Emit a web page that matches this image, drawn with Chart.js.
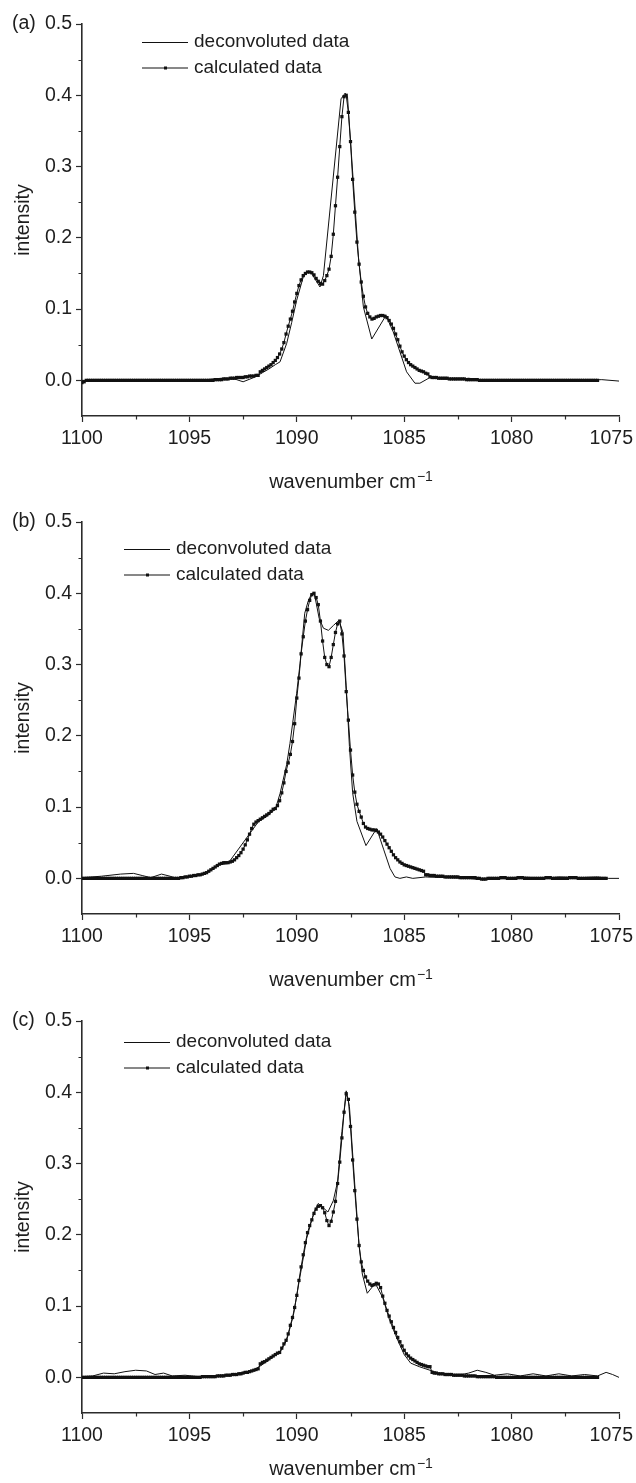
<!DOCTYPE html>
<html>
<head>
<meta charset="utf-8">
<script src="https://cdn.jsdelivr.net/npm/chart.js@4.4.0/dist/chart.umd.min.js"></script>
<style>
  html, body { margin: 0; padding: 0; background: #fff; }
  canvas { display: block; }
</style>
</head>
<body>
<canvas id="chartA" width="636" height="498"></canvas>
<canvas id="chartB" width="636" height="499"></canvas>
<canvas id="chartC" width="636" height="486"></canvas>
<script>
const FONT = '"Liberation Sans", Arial, Helvetica, sans-serif';
const INK = '#1e1e1e';
const AXIS = '#2b2b2b';
const LINE = '#111';

const SERIES = ['deconvoluted data', 'calculated data'];
const X_TICKS = [1100, 1095, 1090, 1085, 1080, 1075];
const X_MINOR = [1097.5, 1092.5, 1087.5, 1082.5, 1077.5];
const Y_TICKS = [0, 0.1, 0.2, 0.3, 0.4, 0.5];
const Y_MINOR = [0.05, 0.15, 0.25, 0.35, 0.45];

// (a) deconvoluted data
const decA_x = [1100, 1098, 1096, 1094.2, 1093.5, 1092.9, 1092.5, 1092.0, 1091.7, 1091.3, 1091.0, 1090.78, 1090.47, 1090.24, 1090.01, 1089.70, 1089.47, 1089.31, 1088.92, 1088.76, 1087.94, 1087.75, 1087.64, 1087.13, 1086.90, 1086.51, 1085.85, 1085.51, 1084.89, 1084.5, 1084.27, 1083.8, 1083.2, 1082.6, 1082.0, 1081.5, 1080.5, 1079, 1077, 1075.8, 1075];
const decA_y = [0, 0, 0, 0.001, 0.003, 0.002, -0.002, 0.004, 0.009, 0.016, 0.022, 0.026, 0.052, 0.081, 0.112, 0.145, 0.153, 0.150, 0.131, 0.147, 0.395, 0.403, 0.398, 0.173, 0.103, 0.058, 0.091, 0.068, 0.012, -0.004, -0.004, 0.004, 0.002, 0.001, 0.003, 0.001, 0, 0, 0, 0.001, -0.001];

// (a) calculated data, every 0.1 cm-1 from 1100.0
const calcA_start = 1100;
const calcA_y = [
  -0.003, -0.002, 0, 0, 0, 0, 0, 0, 0, 0,
  0, 0, 0, 0, 0, 0, 0, 0, 0, 0,
  0, 0, 0, 0, 0, 0, 0, 0, 0, 0,
  0, 0, 0, 0, 0, 0, 0, 0, 0, 0,
  0, 0, 0, 0, 0, 0, 0, 0, 0, 0,
  0, 0, 0, 0, 0, 0, 0, 0, 0, 0,
  0, 0, 0.001, 0.001, 0.001, 0.001, 0.002, 0.002, 0.002, 0.003,
  0.003, 0.003, 0.004, 0.004, 0.004, 0.004, 0.005, 0.005, 0.006, 0.006,
  0.006, 0.007, 0.007, 0.012, 0.014, 0.016, 0.018, 0.020, 0.022, 0.025,
  0.028, 0.032, 0.037, 0.044, 0.053, 0.065, 0.076, 0.086, 0.097, 0.110,
  0.122, 0.133, 0.141, 0.147, 0.150, 0.152, 0.152, 0.151, 0.148, 0.143,
  0.139, 0.136, 0.135, 0.140, 0.147, 0.156, 0.174, 0.205, 0.245, 0.285,
  0.328, 0.370, 0.398, 0.400, 0.376, 0.335, 0.282, 0.236, 0.194, 0.163,
  0.138, 0.118, 0.103, 0.094, 0.089, 0.086, 0.087, 0.089, 0.090, 0.091,
  0.091, 0.090, 0.088, 0.084, 0.079, 0.073, 0.065, 0.057, 0.048, 0.040,
  0.034, 0.029, 0.025, 0.022, 0.020, 0.018, 0.016, 0.014, 0.013, 0.012,
  0.010, 0.009, 0.005, 0.004, 0.004, 0.004, 0.003, 0.003, 0.003, 0.003,
  0.003, 0.002, 0.002, 0.002, 0.002, 0.002, 0.002, 0.002, 0.002, 0.001,
  0.001, 0.001, 0.001, 0.001, 0.001, 0, 0, 0, 0, 0,
  0, 0, 0, 0, 0, 0, 0, 0, 0, 0,
  0, 0, 0, 0, 0, 0, 0, 0, 0, 0,
  0, 0, 0, 0, 0, 0, 0, 0, 0, 0,
  0, 0, 0, 0, 0, 0, 0, 0, 0, 0,
  0, 0, 0, 0, 0, 0, 0, 0, 0, 0,
  0
];

// (b) deconvoluted data
const decB_x = [1100, 1099.1, 1098.2, 1097.6, 1097.2, 1096.8, 1096.3, 1095.9, 1095.6, 1095.0, 1094.4, 1094.0, 1093.6, 1093.2, 1091.8, 1091.4, 1091.0, 1090.78, 1090.47, 1090.32, 1090.01, 1089.85, 1089.63, 1089.47, 1089.3, 1089.2, 1089.14, 1088.96, 1088.76, 1088.53, 1088.29, 1088.04, 1087.85, 1087.7, 1087.55, 1087.4, 1087.2, 1086.78, 1086.28, 1085.95, 1085.66, 1085.43, 1085.2, 1084.9, 1084.6, 1084.0, 1083.0, 1082.0, 1081.3, 1080.5, 1079.5, 1078.5, 1077.8, 1076.8, 1076.0, 1075.5, 1075];
const decB_y = [0.001, 0.003, 0.006, 0.007, 0.004, 0.001, 0.006, 0.003, 0.000, 0.002, 0.005, 0.011, 0.019, 0.021, 0.079, 0.087, 0.097, 0.119, 0.160, 0.189, 0.259, 0.301, 0.372, 0.389, 0.400, 0.400, 0.393, 0.365, 0.351, 0.348, 0.355, 0.362, 0.345, 0.270, 0.185, 0.120, 0.080, 0.046, 0.070, 0.040, 0.014, 0.002, 0.000, 0.002, 0.000, 0.002, 0.001, 0.000, -0.002, 0.000, 0.002, 0.000, 0.002, 0.001, 0.002, 0.000, 0.000];

// (b) calculated data, every 0.1 cm-1 from 1100.0
const calcB_start = 1100;
const calcB_y = [
  0, 0, 0, 0, 0, 0, 0, 0, 0, 0,
  0, 0, 0, 0, 0, 0, 0, 0, 0, 0,
  0, 0, 0, 0, 0, 0, 0, 0, 0, 0,
  0, 0, 0, 0, 0, 0, 0, 0, 0, 0,
  0, 0, 0, 0, 0, 0, 0.001, 0.001, 0.002, 0.002,
  0.003, 0.003, 0.004, 0.004, 0.005, 0.005, 0.006, 0.007, 0.008, 0.010,
  0.012, 0.014, 0.016, 0.018, 0.020, 0.021, 0.022, 0.022, 0.022, 0.023,
  0.024, 0.026, 0.029, 0.032, 0.036, 0.041, 0.047, 0.054, 0.062, 0.070,
  0.076, 0.079, 0.081, 0.083, 0.085, 0.087, 0.089, 0.091, 0.094, 0.097,
  0.098, 0.102, 0.109, 0.120, 0.134, 0.150, 0.162, 0.174, 0.192, 0.217,
  0.253, 0.281, 0.315, 0.339, 0.361, 0.377, 0.390, 0.398, 0.400, 0.394,
  0.384, 0.361, 0.333, 0.310, 0.300, 0.297, 0.310, 0.328, 0.345, 0.357,
  0.361, 0.343, 0.312, 0.262, 0.222, 0.180, 0.145, 0.121, 0.104, 0.094,
  0.086, 0.077, 0.072, 0.070, 0.069, 0.068, 0.068, 0.067, 0.065, 0.062,
  0.058, 0.053, 0.048, 0.043, 0.038, 0.033, 0.029, 0.026, 0.023, 0.021,
  0.019, 0.018, 0.017, 0.016, 0.015, 0.014, 0.013, 0.012, 0.011, 0.010,
  0.005, 0.005, 0.004, 0.004, 0.004, 0.003, 0.003, 0.003, 0.003, 0.002,
  0.002, 0.002, 0.002, 0.002, 0.002, 0.002, 0.001, 0.001, 0.001, 0.001,
  0.001, 0.001, 0.001, 0.001, 0, 0, -0.001, -0.001, -0.001, 0,
  0, 0, 0, 0, 0, 0.001, 0.001, 0.001, 0, 0,
  0, 0, 0, 0.001, 0.001, 0.001, 0, 0, 0, 0,
  0, 0, 0, 0, 0, 0, 0.001, 0.001, 0.001, 0,
  0, 0, 0, 0, 0, 0, 0, 0.001, 0.001, 0.001,
  0.001, 0, 0, 0, 0, 0, 0, 0, 0, 0,
  0, 0, 0, 0, 0
];

// (c) deconvoluted data
const decC_x = [1100, 1099.5, 1099.0, 1098.5, 1098.0, 1097.5, 1097.0, 1096.6, 1096.2, 1095.8, 1095.2, 1094.6, 1094.0, 1093.0, 1092.0, 1091.5, 1091.0, 1090.78, 1090.47, 1090.16, 1089.9, 1089.54, 1089.2, 1089.0, 1088.55, 1088.3, 1088.1, 1087.9, 1087.7, 1087.55, 1087.3, 1087.1, 1086.95, 1086.72, 1086.35, 1086.0, 1085.7, 1085.4, 1085.0, 1084.7, 1084.3, 1083.8, 1083.2, 1082.5, 1082.0, 1081.6, 1081.2, 1080.8, 1080.2, 1079.6, 1079.0, 1078.4, 1077.8, 1077.2, 1076.6, 1076.0, 1075.6, 1075.3, 1075.0];
const decC_y = [0.001, 0.002, 0.006, 0.005, 0.008, 0.010, 0.009, 0.004, 0.006, 0.002, 0.003, 0.001, 0.002, 0.004, 0.010, 0.020, 0.031, 0.035, 0.052, 0.087, 0.133, 0.195, 0.232, 0.244, 0.232, 0.248, 0.275, 0.345, 0.402, 0.380, 0.270, 0.185, 0.145, 0.118, 0.132, 0.112, 0.082, 0.059, 0.032, 0.020, 0.015, 0.010, 0.004, 0.003, 0.006, 0.010, 0.007, 0.003, 0.005, 0.002, 0.005, 0.002, 0.005, 0.002, 0.004, 0.002, 0.007, 0.004, 0.000];

// (c) calculated data, every 0.1 cm-1 from 1100.0
const calcC_start = 1100;
const calcC_y = [
  0, 0, 0, 0, 0, 0, 0, 0, 0, 0,
  0, 0, 0, 0, 0, 0, 0, 0, 0, 0,
  0, 0, 0, 0, 0, 0, 0, 0, 0, 0,
  0, 0, 0, 0, 0, 0, 0, 0, 0, 0,
  0, 0, 0, 0, 0, 0, 0, 0, 0, 0,
  0, 0, 0, 0, 0, 0, 0.001, 0.001, 0.001, 0.001,
  0.001, 0.001, 0.001, 0.002, 0.002, 0.002, 0.002, 0.003, 0.003, 0.003,
  0.004, 0.004, 0.004, 0.005, 0.005, 0.006, 0.007, 0.007, 0.008, 0.009,
  0.010, 0.011, 0.012, 0.019, 0.021, 0.022, 0.024, 0.026, 0.028, 0.030,
  0.032, 0.034, 0.035, 0.041, 0.047, 0.052, 0.061, 0.073, 0.084, 0.098,
  0.115, 0.136, 0.155, 0.172, 0.189, 0.203, 0.213, 0.221, 0.230, 0.236,
  0.240, 0.241, 0.238, 0.231, 0.220, 0.213, 0.219, 0.232, 0.247, 0.272,
  0.302, 0.336, 0.372, 0.398, 0.390, 0.352, 0.305, 0.262, 0.222, 0.185,
  0.162, 0.150, 0.141, 0.135, 0.131, 0.129, 0.130, 0.132, 0.131, 0.126,
  0.114, 0.104, 0.094, 0.086, 0.078, 0.070, 0.063, 0.056, 0.050, 0.044,
  0.038, 0.033, 0.030, 0.027, 0.025, 0.023, 0.021, 0.019, 0.018, 0.017,
  0.016, 0.015, 0.015, 0.007, 0.006, 0.006, 0.005, 0.005, 0.005, 0.004,
  0.004, 0.004, 0.004, 0.003, 0.003, 0.003, 0.003, 0.003, 0.002, 0.002,
  0.002, 0.002, 0.002, 0.002, 0.001, 0.001, 0.001, 0.001, 0.001, 0.001,
  0.001, 0.001, 0.001, 0, 0, 0, 0, 0, 0, 0,
  0, 0, 0, 0, 0, 0, 0, 0, 0, 0,
  0, 0, 0, 0, 0, 0, 0, 0, 0, 0,
  0, 0, 0, 0, 0, 0, 0, 0, 0, 0,
  0, 0, 0, 0, 0, 0, 0, 0, 0, 0,
  0
];

// sampling grid of the calculated curves (0.1 cm-1 steps)
function xGrid(start, n) {
  const out = [];
  for (let i = 0; i < n; i++) out.push(+(start - 0.1 * i).toFixed(1));
  return out;
}

// Origin-like extras: minor ticks, x labels, axis title, panel letter, legend
const originDecor = {
  id: 'originDecor',
  afterDraw(chart, args, o) {
    const ctx = chart.ctx;
    const xs = chart.scales.x, ys = chart.scales.y;
    const area = chart.chartArea;
    ctx.save();

    ctx.strokeStyle = AXIS;
    ctx.lineWidth = 1.2;
    ctx.beginPath();
    X_MINOR.forEach(v => {
      const px = Math.round(xs.getPixelForValue(v)) + 0.5;
      ctx.moveTo(px, area.bottom);
      ctx.lineTo(px, area.bottom + 3.5);
    });
    Y_MINOR.forEach(v => {
      const py = Math.round(ys.getPixelForValue(v)) + 0.5;
      ctx.moveTo(area.left, py);
      ctx.lineTo(area.left - 3.5, py);
    });
    ctx.stroke();

    ctx.fillStyle = INK;
    ctx.font = '19.5px ' + FONT;
    ctx.textAlign = 'center';
    ctx.textBaseline = 'middle';
    X_TICKS.forEach(v => {
      const t = String(v);
      const w = ctx.measureText(t).width;
      let px = xs.getPixelForValue(v);
      px = Math.min(px, chart.width - 3 - w / 2);
      ctx.fillText(t, px, area.bottom + 23);
    });

    // x title with superscript
    const base = 'wavenumber cm', sup = '\u22121';
    ctx.font = '20px ' + FONT;
    const w1 = ctx.measureText(base).width;
    ctx.font = '14px ' + FONT;
    const w2 = ctx.measureText(sup).width;
    const x0 = (area.left + area.right) / 2 - (w1 + w2) / 2;
    const yb = Math.min(area.bottom + 72, chart.height - 8);
    ctx.textAlign = 'left';
    ctx.textBaseline = 'alphabetic';
    ctx.font = '20px ' + FONT;
    ctx.fillText(base, x0, yb);
    ctx.font = '14px ' + FONT;
    ctx.fillText(sup, x0 + w1 + 1, yb - 7);

    // panel letter
    ctx.font = '19.5px ' + FONT;
    ctx.textBaseline = 'middle';
    ctx.fillText(o.letter, 12, ys.getPixelForValue(0.5));

    // legend
    chart.data.datasets.forEach((ds, i) => {
      const y = o.legendY + i * 25.5;
      ctx.strokeStyle = LINE;
      ctx.lineWidth = 1;
      ctx.beginPath();
      ctx.moveTo(o.legendX, y + 0.5);
      ctx.lineTo(o.legendX + 46, y + 0.5);
      ctx.stroke();
      if (ds.pointRadius > 0) {
        ctx.fillStyle = LINE;
        ctx.fillRect(o.legendX + 22, y - 1, 3, 3);
      }
      ctx.fillStyle = INK;
      ctx.font = '19px ' + FONT;
      ctx.fillText(ds.label, o.legendX + 52, y);
    });
    ctx.restore();
  }
};

function buildChart(id, letter, decX, decY, calcStart, calcY, legendX, legendY) {
  const canvas = document.getElementById(id);
  const H = canvas.height;
  const calcX = xGrid(calcStart, calcY.length);
  return new Chart(canvas, {
    type: 'line',
    data: {
      datasets: [{
        label: SERIES[0],
        data: decX.map((x, i) => ({ x: x, y: decY[i] })),
        borderColor: LINE,
        borderWidth: 1,
        pointRadius: 0,
        tension: 0
      }, {
        label: SERIES[1],
        data: calcX.map((x, i) => ({ x: x, y: calcY[i] })),
        borderColor: LINE,
        borderWidth: 1,
        pointStyle: 'rect',
        pointRadius: 2.3,
        pointBackgroundColor: LINE,
        pointBorderWidth: 0,
        tension: 0
      }]
    },
    options: {
      responsive: false,
      animation: false,
      devicePixelRatio: 1,
      events: [],
      layout: { autoPadding: false, padding: { top: 24, right: 17, bottom: 0, left: 0 } },
      plugins: {
        legend: { display: false },
        tooltip: { enabled: false },
        originDecor: { letter: letter, legendX: legendX, legendY: legendY }
      },
      scales: {
        x: {
          type: 'linear',
          reverse: true,
          min: 1075,
          max: 1100,
          afterBuildTicks: s => { s.ticks = X_TICKS.map(v => ({ value: v })); },
          afterFit: s => { s.height = H - 416; },
          ticks: { display: false },
          border: { display: true, color: AXIS, width: 1.6 },
          grid: { display: true, drawOnChartArea: false, drawTicks: true, tickLength: 6, tickColor: AXIS, tickWidth: 1.2 }
        },
        y: {
          min: -0.05,
          max: 0.5,
          afterBuildTicks: s => { s.ticks = Y_TICKS.map(v => ({ value: v })); },
          afterFit: s => { s.width = 82; },
          ticks: {
            color: INK,
            padding: 4,
            font: { family: FONT, size: 19.5 },
            callback: v => v.toFixed(1)
          },
          title: {
            display: true,
            text: 'intensity',
            color: INK,
            font: { family: FONT, size: 19.5 },
            padding: { top: 12, bottom: 0 }
          },
          border: { display: true, color: AXIS, width: 1.6 },
          grid: { display: true, drawOnChartArea: false, drawTicks: true, tickLength: 6, tickColor: AXIS, tickWidth: 1.2 }
        }
      }
    },
    plugins: [originDecor]
  });
}

buildChart('chartA', '(a)', decA_x, decA_y, calcA_start, calcA_y, 142, 42);
buildChart('chartB', '(b)', decB_x, decB_y, calcB_start, calcB_y, 124, 51);
buildChart('chartC', '(c)', decC_x, decC_y, calcC_start, calcC_y, 124, 45);
</script>
</body>
</html>
